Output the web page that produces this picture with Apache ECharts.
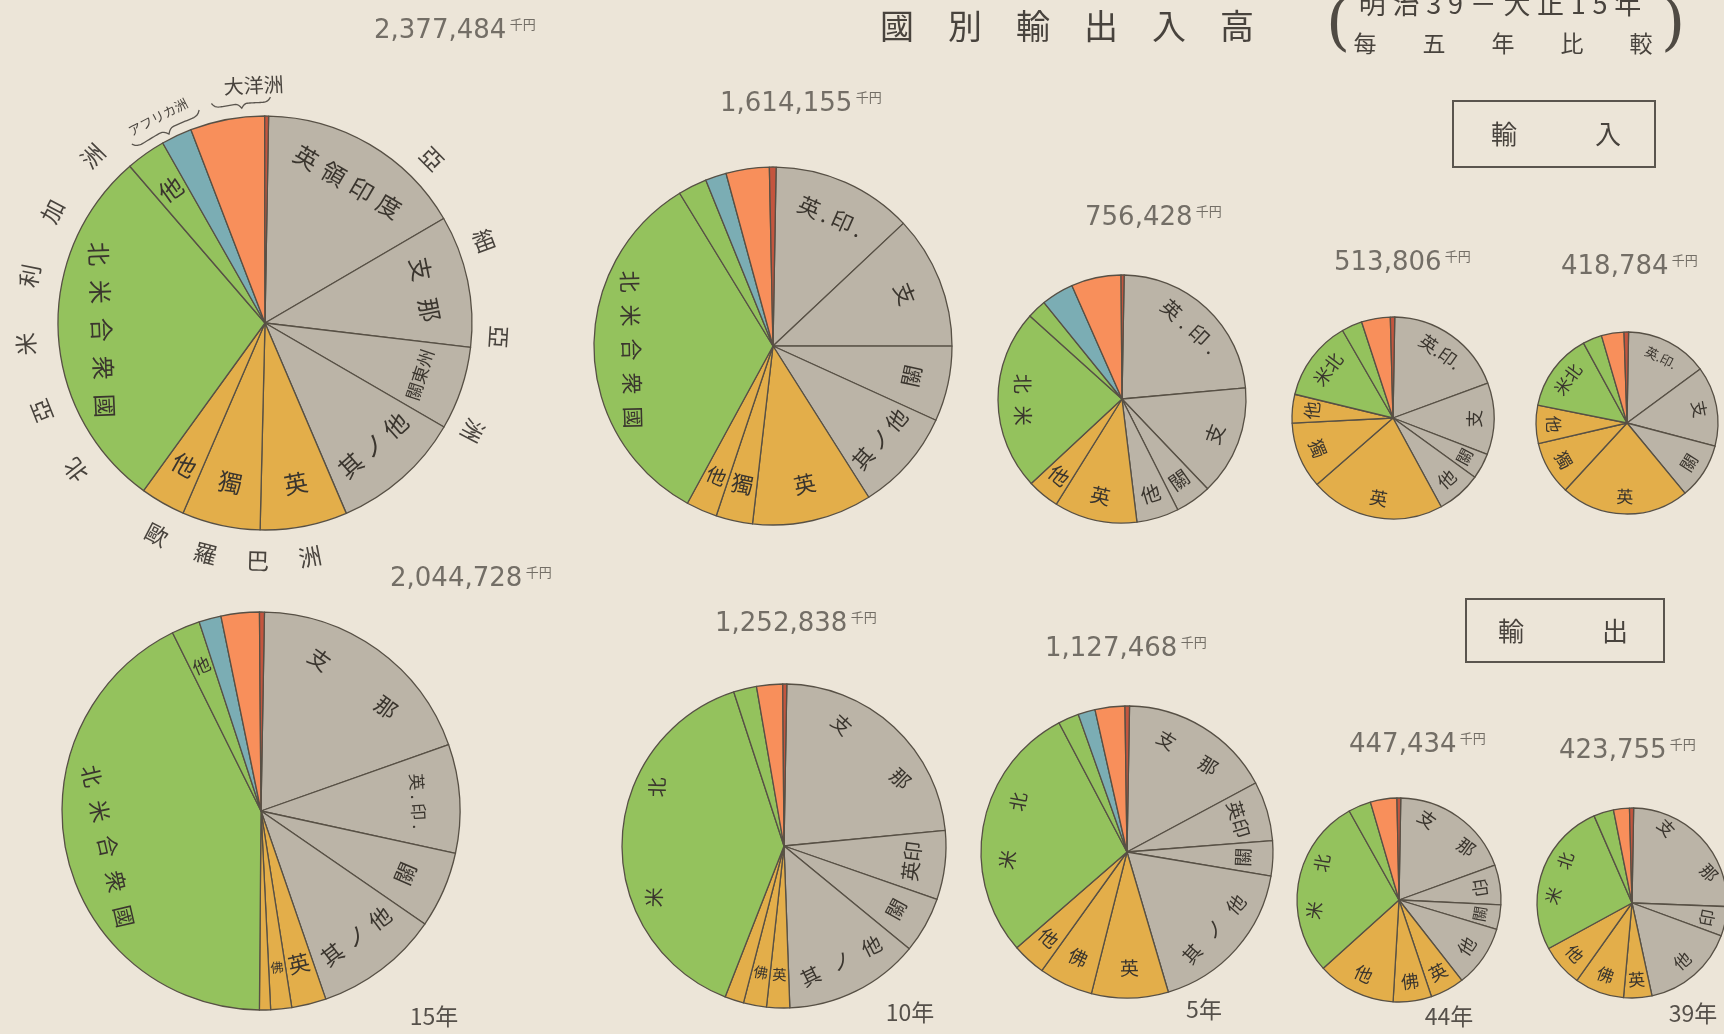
<!DOCTYPE html>
<html><head><meta charset="utf-8">
<script src="https://cdn.jsdelivr.net/npm/echarts@6/dist/echarts.min.js"></script>
<style>html,body{margin:0;padding:0;background:#ece5d8;}#c{width:1724px;height:1034px;}</style>
</head><body><div id="c"></div>
<script>
// ---------------- DATA ----------------
const YEARS = ['15年', '10年', '5年', '44年', '39年'];
const IMPORT_TOTALS = [2377484, 1614155, 756428, 513806, 418784]; // 千円
const EXPORT_TOTALS = [2044728, 1252838, 1127468, 447434, 423755]; // 千円
const UNIT = '千円';
const TITLE = '國別輸出入高';
const SUBTITLE_1 = '明治39－大正15年';
const SUBTITLE_2 = '每五年比較';
const BOX_IMPORT = '輸入';
const BOX_EXPORT = '輸出';
// region groups: 亞=亞細亞洲 歐=歐羅巴洲 北=北亞米利加洲 阿=アフリカ洲 洋=大洋洲 南=南米
const OUTER_LABELS = { '亞': '亞細亞洲', '歐': '歐羅巴洲', '北': '北亞米利加洲', '阿': 'アフリカ洲', '洋': '大洋洲' };

// shares in % of each year's total, read clockwise from 12 o'clock
const IMP15_GROUP = ['亞','亞','亞','亞','歐','歐','歐','北','北','阿','洋','南'];
const IMP15_LABEL = ['英領印度','支那','關東州','其ノ他','英','獨','他','北米合衆國','他','','',''];
const IMP15_SHARE = [16.3,10.3,6.5,10.2,6.8,6.1,3.5,28.7,3.1,2.4,5.8,0.3];

const IMP10_GROUP = ['亞','亞','亞','亞','歐','歐','歐','北','北','阿','洋','南'];
const IMP10_LABEL = ['英.印.','支','關','其ノ他','英','獨','他','北米合衆國','','','',''];
const IMP10_SHARE = [12.7,12.0,6.8,9.2,10.8,3.3,2.8,33.3,2.6,1.9,3.9,0.6];

const IMP5_GROUP = ['亞','亞','亞','亞','歐','歐','北','北','阿','洋','南'];
const IMP5_LABEL = ['英.印.','支','關','他','英','他','北米','','','',''];
const IMP5_SHARE = [23.3,14.3,4.7,5.5,10.8,4.2,23.6,2.5,4.2,6.5,0.4];

const IMP44_GROUP = ['亞','亞','亞','亞','歐','歐','歐','北','北','洋','南'];
const IMP44_LABEL = ['英.印.','支','關','他','英','獨','他','北米','','',''];
const IMP44_SHARE = [19.1,11.5,4.1,7.1,21.5,10.6,4.6,12.9,3.3,4.6,0.7];

const IMP39_GROUP = ['亞','亞','亞','歐','歐','歐','北','北','洋','南'];
const IMP39_LABEL = ['英.印.','支','關','英','獨','他','北米','','',''];
const IMP39_SHARE = [14.6,14.2,9.9,22.8,9.5,6.8,13.9,3.4,4.0,0.8];

const EXP15_GROUP = ['亞','亞','亞','亞','歐','歐','歐','北','北','阿','洋','南'];
const EXP15_LABEL = ['支那','英.印.','關','其ノ他','英','佛','','北米合衆國','他','','',''];
const EXP15_SHARE = [19.3,8.8,6.2,10.1,2.8,1.7,0.9,42.5,2.3,1.8,3.1,0.4];

const EXP10_GROUP = ['亞','亞','亞','亞','歐','歐','歐','北','北','洋','南'];
const EXP10_LABEL = ['支那','英印','關','其ノ他','英','佛','','北米','','',''];
const EXP10_SHARE = [23.2,6.9,5.6,13.5,2.3,2.3,1.9,39.1,2.3,2.6,0.4];

const EXP5_GROUP = ['亞','亞','亞','亞','歐','歐','歐','北','北','阿','洋','南'];
const EXP5_LABEL = ['支那','英印','關','其ノ他','英','佛','他','北米','','','',''];
const EXP5_SHARE = [16.9,6.6,3.9,17.8,8.5,6.0,3.7,28.7,2.3,1.9,3.3,0.5];

const EXP44_GROUP = ['亞','亞','亞','亞','歐','歐','歐','北','北','洋','南'];
const EXP44_LABEL = ['支那','印','關','他','英','佛','他','北米','','',''];
const EXP44_SHARE = [19.2,6.3,3.9,9.8,5.4,6.1,12.4,28.6,3.6,4.2,0.6];

const EXP39_GROUP = ['亞','亞','亞','歐','歐','歐','北','北','洋','南'];
const EXP39_LABEL = ['支那','印','他','英','佛','他','北米','','',''];
const EXP39_SHARE = [25.3,5.0,16.0,4.8,8.4,7.2,26.4,3.4,2.7,0.7];

// ---------------- STYLE / LAYOUT ----------------
const BG = '#ece5d8';
const INK = '#3a352e';
const NUM_INK = '#736e66';
const FONT_JP = '"Noto Sans CJK JP","Noto Sans CJK TC",sans-serif';
const FONT_NUM = '"DejaVu Sans",sans-serif';
const GROUP_COLOR = {'亞':'#bbb4a7','歐':'#e3ae4a','北':'#94c25d','阿':'#7badb4','洋':'#f88f5b','南':'#c4553e'};
const START_ANGLE = 89;

const PIES = [
  {g:IMP15_GROUP,l:IMP15_LABEL,s:IMP15_SHARE, c:[265,323], r:207, fs:24, gaps:[8,18,0,6,0,0,0,14,0,0,0,0], tot:IMPORT_TOTALS[0], tp:[374,31]},
  {g:IMP10_GROUP,l:IMP10_LABEL,s:IMP10_SHARE, c:[773,346], r:179, fs:22, gaps:[4,0,0,4,0,0,0,12,0,0,0,0], tot:IMPORT_TOTALS[1], tp:[720,104]},
  {g:IMP5_GROUP, l:IMP5_LABEL, s:IMP5_SHARE,  c:[1122,399], r:124, fs:20, gaps:[6,0,0,0,0,0,12,0,0,0,0], tot:IMPORT_TOTALS[2], tp:[1085,218]},
  {g:IMP44_GROUP,l:IMP44_LABEL,s:IMP44_SHARE, c:[1393,418], r:101, fs:18, gaps:[0,0,0,0,0,0,0,0,0,0,0], tot:IMPORT_TOTALS[3], tp:[1334,263]},
  {g:IMP39_GROUP,l:IMP39_LABEL,s:IMP39_SHARE, c:[1627,423], r:91,  fs:17, gaps:[0,0,0,0,0,0,0,0,0,0], tot:IMPORT_TOTALS[4], tp:[1561,267]},
  {g:EXP15_GROUP,l:EXP15_LABEL,s:EXP15_SHARE, c:[261,811], r:199, fs:22, gaps:[60,4,0,8,0,0,0,14,0,0,0,0], tot:EXPORT_TOTALS[0], tp:[390,579], yr:[434,1016]},
  {g:EXP10_GROUP,l:EXP10_LABEL,s:EXP10_SHARE, c:[784,846], r:162, fs:20, gaps:[60,0,0,14,0,0,0,90,0,0,0], tot:EXPORT_TOTALS[1], tp:[715,624], yr:[910,1012]},
  {g:EXP5_GROUP, l:EXP5_LABEL, s:EXP5_SHARE,  c:[1127,852], r:146, fs:19, gaps:[30,0,0,14,0,0,0,40,0,0,0,0], tot:EXPORT_TOTALS[2], tp:[1045,649], yr:[1204,1009]},
  {g:EXP44_GROUP,l:EXP44_LABEL,s:EXP44_SHARE, c:[1399,900], r:102, fs:18, gaps:[30,0,0,0,0,0,0,30,0,0,0], tot:EXPORT_TOTALS[3], tp:[1349,745], yr:[1449,1016]},
  {g:EXP39_GROUP,l:EXP39_LABEL,s:EXP39_SHARE, c:[1632,903], r:95,  fs:17, gaps:[45,0,0,0,0,0,20,0,0,0], tot:EXPORT_TOTALS[4], tp:[1559,751], yr:[1693,1013]}
];
const LABEL_INNER = 0.55;

// ---------------- BUILD ----------------
const gapSet = new Set();
PIES.forEach(p => p.gaps.forEach(g => { if (g) gapSet.add(g); }));
const rich = {};
gapSet.forEach(g => { rich['g' + g] = { width: g }; });

function fmtLabel(txt, gap, reverse) {
  if (!txt) return '';
  let ch = Array.from(txt);
  if (reverse) ch = ch.reverse();
  return gap ? ch.join('{g' + gap + '|\u00a0}') : ch.join('');
}

const series = [];
PIES.forEach((p, k) => {
  const tot = p.s.reduce((a, b) => a + b, 0);
  const rl = p.r * (1 + LABEL_INNER) / 2;
  series.push({
    type: 'pie', center: p.c, radius: [0, p.r], startAngle: START_ANGLE, clockwise: true,
    silent: true, animation: false, label: { show: false }, labelLine: { show: false },
    itemStyle: { borderColor: '#575045', borderWidth: 1.3 },
    data: p.s.map((v, i) => ({ value: v, name: p.l[i] || p.g[i], itemStyle: { color: GROUP_COLOR[p.g[i]] } }))
  });
  let acc = 90 - START_ANGLE;
  series.push({
    type: 'pie', center: p.c, radius: [p.r * LABEL_INNER, p.r], startAngle: START_ANGLE, clockwise: true,
    silent: true, animation: false, z: 5,
    itemStyle: { color: 'rgba(0,0,0,0)', borderWidth: 0 },
    labelLine: { show: false },
    label: { show: true, position: 'inside', rotate: 'tangential', color: INK, fontFamily: FONT_JP, fontSize: p.fs, rich: rich },
    data: p.s.map((v, i) => {
      const txt = p.l[i] || '';
      const n = Math.max(1, Array.from(txt).length);
      const deg = v / tot * 360;
      const mid = acc + deg / 2; acc += deg;
      const arc = rl * deg * Math.PI / 180;
      const fs = Math.max(10, Math.min(p.fs, arc * 0.8 / n));
      // old-style right-to-left reading on the upper-left quadrant
      const rev = mid > 270 && mid < 360;
      return { value: v, name: p.l[i] || p.g[i],
        label: { show: !!txt, fontSize: fs, formatter: fmtLabel(txt, p.gaps[i], rev) } };
    })
  });
});

// graphic texts
const graphic = [];
PIES.forEach((p, k) => {
  graphic.push({ type: 'text', x: p.tp[0], y: p.tp[1], style: {
    text: '{n|' + p.tot.toLocaleString('en-US') + '} {u|' + UNIT + '}',
    verticalAlign: 'middle', align: 'left',
    rich: { n: { fontSize: 26, fontFamily: FONT_NUM, fill: NUM_INK },
            u: { fontSize: 13, fontFamily: FONT_JP, fill: NUM_INK, verticalAlign: 'top' } } } });
  if (p.yr) graphic.push({ type: 'text', x: p.yr[0], y: p.yr[1], style: {
    text: YEARS[k - 5], align: 'center', verticalAlign: 'middle', fontSize: 23, fontFamily: FONT_JP, fill: '#55504a' } });
});

// title block
graphic.push({ type: 'text', x: 880, y: 26, style: { text: Array.from(TITLE).join('\u3000'), fontSize: 34, fontFamily: FONT_JP, fill: '#48433d', verticalAlign: 'middle' } });
graphic.push({ type: 'text', x: 1338, y: 27, style: { text: '(', fontSize: 62, fontFamily: '"DejaVu Serif",serif', fill: '#4f4a43', align: 'center', verticalAlign: 'middle' } });
graphic.push({ type: 'text', x: 1673, y: 27, style: { text: ')', fontSize: 62, fontFamily: '"DejaVu Serif",serif', fill: '#4f4a43', align: 'center', verticalAlign: 'middle' } });
graphic.push({ type: 'text', x: 1500, y: 4, style: { text: Array.from(SUBTITLE_1).join('\u2005'), fontSize: 27, fontFamily: FONT_JP, fill: '#48433d', align: 'center', verticalAlign: 'middle' } });
graphic.push({ type: 'text', x: 1503, y: 43, style: { text: Array.from(SUBTITLE_2).join('\u3000\u3000'), fontSize: 23, fontFamily: FONT_JP, fill: '#48433d', align: 'center', verticalAlign: 'middle' } });

// boxes
graphic.push({ type: 'rect', shape: { x: 1453, y: 101, width: 202, height: 66 }, style: { fill: 'none', stroke: '#5a554e', lineWidth: 2 } });
graphic.push({ type: 'text', x: 1556, y: 134, style: { text: Array.from(BOX_IMPORT).join('\u3000\u3000\u3000'), fontSize: 26, fontFamily: FONT_JP, fill: '#48433d', align: 'center', verticalAlign: 'middle' } });
graphic.push({ type: 'rect', shape: { x: 1466, y: 599, width: 198, height: 63 }, style: { fill: 'none', stroke: '#5a554e', lineWidth: 2 } });
graphic.push({ type: 'text', x: 1563, y: 631, style: { text: Array.from(BOX_EXPORT).join('\u3000\u3000\u3000'), fontSize: 26, fontFamily: FONT_JP, fill: '#48433d', align: 'center', verticalAlign: 'middle' } });

// outer continent labels around the first pie, positioned from the group spans of its data
const P0 = PIES[0];
function groupSpan(p, g) {
  const tot = p.s.reduce((a, b) => a + b, 0);
  let acc = 90 - START_ANGLE, s = null, e = null;
  p.s.forEach((v, i) => { const d = v / tot * 360; if (p.g[i] === g) { if (s === null) s = acc; e = acc + d; } acc += d; });
  return [s, e];
}
function polar(p, R, th) { const a = th * Math.PI / 180; return [p.c[0] + R * Math.sin(a), p.c[1] - R * Math.cos(a)]; }
const OUTER_STYLE = [
  { g: '亞', R: 234, step: 24, mode: 'cw', fs: 23, shift: 2.5 },
  { g: '歐', R: 238, step: 12.7, mode: 'ccw', fs: 23, shift: 1.7 },
  { g: '北', R: 240, step: 16.4, mode: 'cw', fs: 23, shift: 0 }
];
OUTER_STYLE.forEach(o => {
  const sp = groupSpan(P0, o.g); const mid = (sp[0] + sp[1]) / 2 + o.shift;
  const chars = Array.from(OUTER_LABELS[o.g]); const n = chars.length;
  chars.forEach((ch, i) => {
    const th = o.mode === 'cw' ? mid - (n - 1) / 2 * o.step + i * o.step : mid + (n - 1) / 2 * o.step - i * o.step;
    const xy = polar(P0, o.R, th);
    const rot = o.mode === 'cw' ? -th * Math.PI / 180 : (180 - th) * Math.PI / 180;
    graphic.push({ type: 'text', x: xy[0], y: xy[1], rotation: rot, style: { text: ch, fontSize: o.fs, fontFamily: FONT_JP, fill: '#48433d', align: 'center', verticalAlign: 'middle' } });
  });
});
const SMALL_OUTER = [
  { g: '阿', R: 232, shift: -2.2, fs: 13, brace: [-11.4, 8.1], bR: [223, 212] },
  { g: '洋', R: 238, shift: 7.8, fs: 20, brace: [-3.2, 11.9], bR: [226, 216] }
];
SMALL_OUTER.forEach(o => {
  const sp = groupSpan(P0, o.g); const mid = (sp[0] + sp[1]) / 2;
  const th = mid + o.shift; const xy = polar(P0, o.R, th);
  graphic.push({ type: 'text', x: xy[0], y: xy[1], rotation: -th * Math.PI / 180, style: { text: OUTER_LABELS[o.g], fontSize: o.fs, fontFamily: FONT_JP, fill: '#48433d', align: 'center', verticalAlign: 'middle' } });
  const pts = [];
  const a1 = mid + o.brace[0], a2 = mid + o.brace[1];
  for (let t = 0; t <= 1.0001; t += 0.025) {
    const u = Math.min(t, 1 - t) * 2;
    const prof = 0.55 * (1 - Math.exp(-u / 0.08)) + 0.45 * Math.pow(Math.max(0, (u - 0.8) / 0.2), 2);
    const R = o.bR[0] - (o.bR[0] - o.bR[1]) * prof;
    pts.push(polar(P0, R, a1 + (a2 - a1) * t));
  }
  graphic.push({ type: 'polyline', shape: { points: pts }, style: { fill: 'none', stroke: '#5a554e', lineWidth: 1.3 } });
});

const chart = echarts.init(document.getElementById('c'), null, { width: 1724, height: 1034 });
chart.setOption({ backgroundColor: BG, animation: false, series: series, graphic: graphic });
</script></body></html>
